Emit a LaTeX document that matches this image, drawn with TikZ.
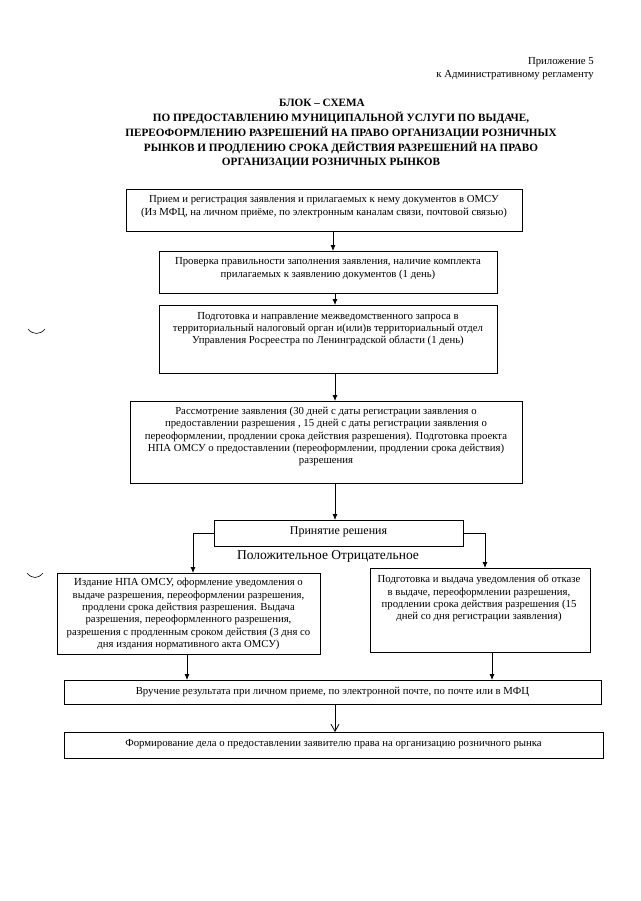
\documentclass[tikz,border=0pt]{standalone}
\usepackage{fontspec}
\setmainfont{Liberation Serif}
\usetikzlibrary{arrows.meta}
\begin{document}
\begin{tikzpicture}[x=1pt,y=-1pt,
  boxs/.style={draw=black, line width=0.9pt, inner sep=0pt, outer sep=0pt},
  txt/.style={align=center, inner sep=0pt, font=\fontsize{10.75}{12.3}\selectfont},
  midtxt/.style={inner sep=0pt, font=\fontsize{12}{14}\selectfont},
  bigtxt/.style={inner sep=0pt, font=\fontsize{13.5}{15}\selectfont},
  ttl/.style={inner sep=0pt, font=\bfseries\fontsize{11.2}{15}\selectfont},
  arr/.style={line width=0.8pt, -{Latex[length=6pt,width=5pt]}},
  arrv/.style={line width=0.8pt, -{Straight Barb[length=7pt,width=8pt]}},
  punchmark/.style={line width=0.6pt}
]
\useasboundingbox (0,0) rectangle (640,901);
\fill[white] (0,0) rectangle (640,901);

% header
\node[txt, anchor=east] (p1) at (594,62) {Приложение 5};
\node[txt, anchor=east] (p2) at (594,75) {к Административному регламенту};

% title
\node[ttl] (h1) at (322,103) {БЛОК – СХЕМА};
\node[ttl] (h2) at (341,118) {ПО ПРЕДОСТАВЛЕНИЮ МУНИЦИПАЛЬНОЙ УСЛУГИ ПО ВЫДАЧЕ,};
\node[ttl] (h3) at (341,133) {ПЕРЕОФОРМЛЕНИЮ РАЗРЕШЕНИЙ НА ПРАВО ОРГАНИЗАЦИИ РОЗНИЧНЫХ};
\node[ttl] (h4) at (341,148) {РЫНКОВ И ПРОДЛЕНИЮ СРОКА ДЕЙСТВИЯ РАЗРЕШЕНИЙ НА ПРАВО};
\node[ttl] (h5) at (331,163) {ОРГАНИЗАЦИИ РОЗНИЧНЫХ РЫНКОВ};

% boxes
\node[boxs, minimum width=396pt, minimum height=42pt] (b1) at (324,210) {};
\node[boxs, minimum width=338pt, minimum height=42pt] (b2) at (328,272) {};
\node[boxs, minimum width=338pt, minimum height=68pt] (b3) at (328,339) {};
\node[boxs, minimum width=392pt, minimum height=82pt] (b4) at (326,442) {};
\node[boxs, minimum width=249pt, minimum height=26pt] (b5) at (338.5,533) {};
\node[boxs, minimum width=263pt, minimum height=81pt] (bL) at (188.5,613.5) {};
\node[boxs, minimum width=220pt, minimum height=84pt] (bR) at (480,610) {};
\node[boxs, minimum width=537pt, minimum height=24pt] (b6) at (332.5,692) {};
\node[boxs, minimum width=539pt, minimum height=26pt] (b7) at (333.5,745) {};

% texts
\node[txt] (t1) at (324,206.5) {Прием и регистрация заявления и прилагаемых к нему документов в ОМСУ\\(Из МФЦ, на личном приёме, по электронным каналам связи, почтовой связью)};
\node[txt] (t2) at (328,268.5) {Проверка правильности заполнения заявления, наличие комплекта\\прилагаемых к заявлению документов (1 день)};
\node[txt] (t3) at (328,329) {Подготовка и направление межведомственного запроса в\\территориальный налоговый орган и(или)в территориальный отдел\\Управления Росреестра по Ленинградской области (1 день)};
\node[txt] (t4) at (326,436.5) {Рассмотрение заявления (30 дней с даты регистрации заявления о\\предоставлении разрешения , 15 дней с даты регистрации заявления о\\переоформлении, продлении срока действия разрешения). Подготовка проекта\\НПА ОМСУ о предоставлении (переоформлении, продлении срока действия)\\разрешения};
\node[midtxt] (t5) at (338.5,532) {Принятие решения};
\node[bigtxt] (tpn) at (328,556) {Положительное Отрицательное};
\node[txt] (tL) at (188.5,614) {Издание НПА ОМСУ, оформление уведомления о\\выдаче разрешения, переоформлении разрешения,\\продлени срока действия разрешения. Выдача\\разрешения, переоформленного разрешения,\\разрешения с продленным сроком действия (3 дня со\\дня издания нормативного акта ОМСУ)};
\node[txt] (tR) at (479,598.5) {Подготовка и выдача уведомления об отказе\\в выдаче, переоформлении разрешения,\\продлении срока действия разрешения (15\\дней со дня регистрации заявления)};
\node[txt] (t6) at (332.5,692) {Вручение результата при личном приеме, по электронной почте, по почте или в МФЦ};
\node[txt] (t7) at (333.5,744) {Формирование дела о предоставлении заявителю права на организацию розничного рынка};

% connector columns
\coordinate (xa) at (333,0);
\coordinate (xb) at (335,0);
\coordinate (xl) at (193,0);
\coordinate (xr) at (485,0);
\coordinate (xl2) at (187,0);
\coordinate (xr2) at (492,0);

\draw[arr] (b1.south -| xa) -- (b2.north -| xa);
\draw[arr] (b2.south -| xb) -- (b3.north -| xb);
\draw[arr] (b3.south -| xb) -- (b4.north -| xb);
\draw[arr] (b4.south -| xb) -- (b5.north -| xb);
\draw[arr] (b5.west) -| (bL.north -| xl);
\draw[arr] (b5.east) -| (bR.north -| xr);
\draw[arr] (bL.south -| xl2) -- (b6.north -| xl2);
\draw[arr] (bR.south -| xr2) -- (b6.north -| xr2);
\draw[arrv] (b6.south -| xb) -- (b7.north -| xb);

% punch marks at the left margin
\draw[punchmark] (28,329) .. controls (33,335) and (40,335) .. (45,329);
\draw[punchmark] (27,573) .. controls (32,579) and (38,579) .. (43,573);
\end{tikzpicture}
\end{document}
